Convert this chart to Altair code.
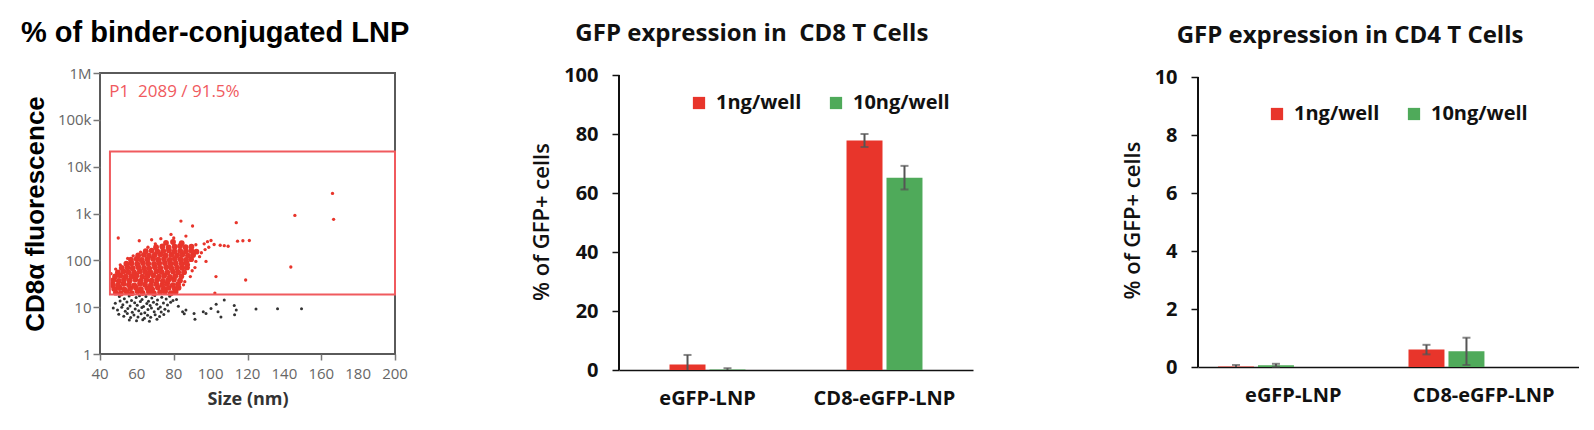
import altair as alt
import pandas as pd

# ---------------- data ----------------
# flow-cytometry style panel (size in nm, CD8a fluorescence)
gate_box = {"x": 45.4, "x2": 200, "y": 18.6, "y2": 21000}
gate_label = "P1\u00a0 2089 / 91.5%"

red_core = [
    (48.6, 20.4), (51.3, 19.6), (54.5, 21.2), (57.2, 19.9), (60.4, 21.8), (63.1, 20.1), (66.5, 21.4), (69.2, 19.8), (72.6, 20.9), (75.3, 21.6), (78.4, 19.9), (81.0, 21.1),
    (47.7, 24.6), (50.6, 25.7), (53.2, 23.9), (56.4, 25.2), (59.5, 26.1), (62.2, 24.3), (65.6, 25.6), (68.3, 24.0), (71.4, 26.2), (74.6, 24.8), (77.3, 25.9), (80.6, 24.4), (82.6, 26.0),
    (46.9, 30.6), (49.8, 29.4), (52.8, 31.6), (55.7, 30.1), (58.6, 29.2), (61.7, 31.8), (64.4, 30.3), (67.6, 29.5), (70.5, 31.4), (73.7, 30.0), (76.4, 31.7), (79.5, 29.6), (82.3, 30.9),
    (47.3, 37.8), (50.2, 36.4), (53.0, 38.6), (56.1, 37.0), (59.2, 38.9), (62.0, 36.2), (65.1, 37.9), (68.0, 36.8), (71.0, 38.7), (74.1, 36.5), (77.0, 37.6), (80.1, 38.9), (83.4, 36.9),
    (48.2, 45.3), (51.0, 47.2), (53.9, 44.6), (57.0, 46.0), (59.8, 47.6), (62.9, 44.9), (65.8, 46.5), (68.9, 47.9), (71.9, 45.0), (74.8, 46.8), (77.9, 44.4), (80.8, 46.1), (84.1, 45.5),
    (49.7, 55.2), (52.7, 57.6), (55.4, 56.1), (58.5, 54.9), (61.6, 57.9), (64.5, 56.3), (67.4, 55.0), (70.6, 58.1), (73.4, 56.6), (76.5, 55.3), (79.6, 57.5), (82.4, 56.0), (85.6, 55.8),
    (51.8, 68.6), (54.9, 70.4), (57.7, 68.1), (60.8, 71.2), (63.9, 69.0), (66.7, 67.6), (69.8, 70.8), (72.7, 69.3), (75.9, 71.5), (78.7, 68.4), (81.8, 70.1), (84.6, 69.2), (87.2, 70.6),
    (54.3, 84.7), (57.1, 86.9), (60.2, 83.8), (63.3, 87.4), (66.2, 85.2), (69.3, 84.0), (72.1, 86.6), (75.2, 88.0), (78.3, 84.5), (81.1, 86.1), (84.3, 85.0), (87.0, 87.1),
    (56.8, 103.5), (59.9, 106.8), (62.6, 102.1), (65.7, 105.6), (68.8, 108.4), (71.6, 103.0), (74.7, 106.2), (77.8, 101.8), (80.6, 107.1), (83.7, 104.4), (86.6, 102.6), (89.4, 105.9),
    (60.7, 127.4), (63.8, 131.2), (66.6, 125.6), (69.7, 130.0), (72.8, 133.0), (75.6, 126.8), (78.7, 130.6), (81.8, 127.9), (84.6, 132.2), (87.7, 126.2), (90.5, 129.8),
    (64.8, 156.0), (68.0, 161.5), (71.2, 153.6), (74.3, 159.1), (77.4, 163.0), (80.4, 154.8), (83.5, 158.7), (86.6, 155.5), (89.5, 161.2), (92.3, 153.4),
    (70.4, 190.5), (73.8, 198.6), (77.2, 188.8), (80.5, 196.2), (83.4, 201.5), (86.4, 190.2), (89.6, 195.4),
    (75.8, 236.0), (79.6, 246.5), (84.3, 231.8),
]

red_sparse = [
    (49.9, 300), (61.3, 262), (78.5, 357), (83.9, 690), (86.6, 330), (90.2, 540), (113.9, 636),
    (145.7, 910), (166.1, 2680), (166.7, 750), (143.5, 72), (119, 38), (102.9, 45), (102.3, 20),
    (114.6, 257), (117.5, 262), (121, 265), (101.9, 218), (105.2, 210), (107.4, 206), (109.5, 200),
    (97.5, 95), (91.5, 70), (85.3, 30), (100.2, 265), (96.5, 225), (98.3, 250),
    (47.8, 40), (48.9, 25), (46, 52), (46.5, 28), (48.5, 65), (51, 80), (55, 110), (58, 125),
    (62, 150), (66, 190), (70, 225), (90, 60), (89, 45), (86, 35), (88, 80), (92, 95),
    (94, 120), (95, 145), (97, 170), (99, 190), (92, 215), (73, 290), (68, 275), (80, 300),
]

black_events = [
    (50.5, 16.8), (53.2, 15.1), (55.8, 17.4), (57.1, 13.9), (59.6, 16.0), (61.4, 17.6), (62.8, 14.6), (64.9, 16.9),
    (66.3, 13.4), (68.1, 15.7), (69.7, 17.8), (71.2, 14.2), (73.5, 16.3), (75.9, 15.0), (77.8, 17.1), (79.6, 13.8),
    (48.3, 12.1), (50.9, 13.6), (52.4, 11.2), (54.6, 12.9), (56.3, 10.6), (58.8, 12.4), (60.2, 11.0), (61.9, 13.2),
    (63.6, 10.3), (65.4, 12.0), (67.2, 10.9), (69.0, 12.7), (70.8, 11.5), (72.7, 10.1), (74.4, 12.3), (76.6, 11.1), (78.3, 12.8),
    (47.2, 9.6), (49.5, 8.7), (51.8, 10.0), (53.7, 8.2), (55.1, 9.4), (57.5, 7.8), (59.1, 9.1), (61.0, 8.4), (62.7, 9.8),
    (64.3, 7.6), (66.0, 8.9), (67.9, 9.6), (69.4, 8.0), (71.6, 9.3), (73.2, 7.9), (75.2, 9.0), (77.1, 8.3),
    (50.2, 7.1), (52.9, 6.4), (54.8, 7.3), (56.6, 6.0), (58.4, 6.8), (60.6, 6.2), (62.3, 7.2), (64.1, 5.8), (65.8, 6.7),
    (67.5, 6.1), (69.9, 6.9), (72.3, 6.3), (74.6, 7.0),
    (55.9, 5.3), (59.8, 5.1), (63.2, 5.4), (66.8, 5.0), (70.9, 5.5),
    (84.8, 8), (86.6, 8.7), (85.7, 7.2), (91.5, 5.5), (97.5, 7.3), (100.2, 9.4), (103, 11.6),
    (107.4, 14.2), (105.6, 6.2), (112.8, 10.8), (113.9, 8.7), (113, 6.9), (124.6, 9.1),
    (136.3, 9.3), (149.3, 9.3), (91, 7.3), (96, 8), (104, 8), (81.5, 14.5), (82.5, 10.5),
]

size_ticks = [40, 60, 80, 100, 120, 140, 160, 180, 200]
fl_ticks = [1, 10, 100, 1000, 10000, 100000, 1000000]

# bar panels
categories = ["eGFP-LNP", "CD8-eGFP-LNP"]
doses = ["1ng/well", "10ng/well"]
cd8_mean = [1.9, 0.2, 77.8, 65.2]
cd8_err = [3.2, 0.4, 2.2, 4.0]
cd4_mean = [0.02, 0.06, 0.60, 0.54]
cd4_err = [0.05, 0.05, 0.165, 0.47]
cd8_ticks = [0, 20, 40, 60, 80, 100]
cd4_ticks = [0, 2, 4, 6, 8, 10]

RED = "#E8352B"
GREEN = "#4FAA5A"
GATE = "#F05A5E"
ERR = "#555555"
INK = "#111111"

# ---------------- panel 1 ----------------
P1_H = 281
df_core = pd.DataFrame(red_core, columns=["size", "fl"])
df_sparse = pd.DataFrame(red_sparse, columns=["size", "fl"])
df_black = pd.DataFrame(black_events, columns=["size", "fl"])
df_gate = pd.DataFrame([gate_box])
df_xticks = pd.DataFrame({"v": size_ticks})

xs = alt.Scale(domain=[40, 200], nice=False)
ys = alt.Scale(type="log", domain=[1, 1000000], nice=False)

x_ax = alt.Axis(values=size_ticks, title="Size (nm)", grid=False, domain=False, labels=False,
                tickColor="#777777", tickSize=6, tickWidth=1.5,
                titleFont="Open Sans", titleFontSize=18, titleFontWeight="bold",
                titleColor="#333333", titlePadding=30)
y_ax = alt.Axis(values=fl_ticks, title="CD8\u03b1 fluorescence", grid=False, domain=False,
                labelOverlap=False, labelFlush=False,
                labelExpr="datum.value >= 1000000 ? '1M' : (datum.value >= 1000 ? format(datum.value/1000, 'd') + 'k' : format(datum.value, 'd'))",
                labelFont="Open Sans", labelFontSize=15, labelColor="#666666",
                tickColor="#777777", tickSize=7, tickWidth=1.5, labelPadding=2,
                titleFont="Liberation Sans", titleFontSize=26, titleFontWeight="bold",
                titleColor="#000000", titlePadding=9)

black_layer = alt.Chart(df_black).mark_circle(size=9, color="#333333", opacity=1).encode(
    x=alt.X("size:Q", scale=xs, axis=x_ax), y=alt.Y("fl:Q", scale=ys, axis=y_ax))
core_layer = alt.Chart(df_core).mark_circle(size=34, color=RED, opacity=1).encode(
    x=alt.X("size:Q", scale=xs, axis=x_ax), y=alt.Y("fl:Q", scale=ys, axis=y_ax))
sparse_layer = alt.Chart(df_sparse).mark_circle(size=11, color=RED, opacity=1).encode(
    x=alt.X("size:Q", scale=xs, axis=x_ax), y=alt.Y("fl:Q", scale=ys, axis=y_ax))
gate_layer = alt.Chart(df_gate).mark_rect(fillOpacity=0, stroke=GATE, strokeWidth=2).encode(
    x=alt.X("x:Q", scale=xs, axis=x_ax), x2="x2:Q", y=alt.Y("y:Q", scale=ys, axis=y_ax), y2="y2:Q")
label_layer = alt.Chart(pd.DataFrame({"t": [gate_label]})).mark_text(
    align="left", baseline="alphabetic", font="Open Sans", fontSize=17, color=GATE).encode(
    x=alt.datum(45, scale=xs), y=alt.datum(300000, scale=ys), text="t:N")
xtick_labels = alt.Chart(df_xticks).mark_text(
    align="center", baseline="top", font="Open Sans", fontSize=15, color="#666666").encode(
    x=alt.X("v:Q", scale=xs, axis=x_ax), y=alt.value(P1_H + 13), text="v:Q")

panel1 = alt.layer(black_layer, sparse_layer, core_layer, gate_layer, label_layer, xtick_labels).properties(
    width=295, height=P1_H,
    view=alt.ViewBackground(stroke="#5a5a5a", strokeWidth=2),
    title=alt.TitleParams("% of binder-conjugated LNP", font="Liberation Sans", fontSize=29,
                          fontWeight="bold", color="#000000", anchor="start", frame="group",
                          baseline="alphabetic", offset=-5, dx=-79),
)


# ---------------- bar panels ----------------
def bar_panel(means, errs, ticks, ymax, top_tick, width, height, title,
              x_in, x_out, o_in, o_out, legend_x, legend_y):
    df = pd.DataFrame({
        "cat": [c for c in categories for _ in doses],
        "dose": doses * len(categories),
        "mean": means,
        "err": errs,
    })
    df["hi"] = df["mean"] + df["err"]
    df["lo"] = (df["mean"] - df["err"]).clip(lower=0)

    x = alt.X("cat:N", sort=categories, scale=alt.Scale(paddingInner=x_in, paddingOuter=x_out),
              axis=alt.Axis(title=None, labelAngle=0, labelFont="Open Sans", labelFontSize=20,
                            labelFontWeight="bold", labelColor=INK, tickSize=0,
                            labelPadding=18, domainColor=INK, domainWidth=1.6, grid=False))
    xo = alt.XOffset("dose:N", sort=doses, scale=alt.Scale(paddingInner=o_in, paddingOuter=o_out))
    ys_ = alt.Scale(domain=[0, ymax], nice=False)
    y_axis = alt.Axis(values=ticks, title="% of GFP+ cells", grid=False, domain=False,
                      labelFont="Open Sans", labelFontSize=20, labelFontWeight="bold",
                      labelColor=INK, tickSize=7, tickColor=INK, tickWidth=1.5,
                      labelPadding=14,
                      titleFont="Open Sans", titleFontSize=22, titleFontWeight=600,
                      titleColor=INK, titlePadding=10)
    base = alt.Chart(df)
    bars = base.mark_bar().encode(
        x=x, xOffset=xo,
        y=alt.Y("mean:Q", scale=ys_, axis=y_axis),
        color=alt.Color("dose:N", sort=doses, scale=alt.Scale(domain=doses, range=[RED, GREEN]),
                        legend=alt.Legend(title=None, orient="none", legendX=legend_x, legendY=legend_y,
                                          direction="horizontal", symbolType="square", symbolSize=150,
                                          symbolStrokeWidth=0, symbolOpacity=1,
                                          labelFont="Open Sans", labelFontSize=20, labelFontWeight="bold",
                                          labelColor=INK, labelOffset=7, columnPadding=24)),
    )
    y_line = base.mark_rule(color=INK, strokeWidth=1.6).encode(
        x=alt.value(0), y=alt.datum(0, scale=ys_), y2=alt.datum(top_tick))
    rule = base.mark_rule(color=ERR, strokeWidth=2).encode(
        x=x, xOffset=xo, y=alt.Y("lo:Q", scale=ys_), y2="hi:Q")
    cap_hi = base.mark_tick(color=ERR, thickness=2, size=8, orient="horizontal").encode(
        x=x, xOffset=xo, y=alt.Y("hi:Q", scale=ys_))
    cap_lo = base.transform_filter("datum.mean - datum.err > 0").mark_tick(
        color=ERR, thickness=2, size=8, orient="horizontal").encode(
        x=x, xOffset=xo, y=alt.Y("lo:Q", scale=ys_))
    return alt.layer(bars, rule, cap_hi, cap_lo, y_line).properties(
        width=width, height=height,
        title=alt.TitleParams(title, font="Open Sans", fontSize=24, fontWeight="bold",
                              color=INK, anchor="middle", frame="bounds",
                              baseline="alphabetic", offset=0),
    )


panel2 = bar_panel(cd8_mean, cd8_err, cd8_ticks, 100.68, 100, 354, 297,
                   "GFP expression in\u00a0 CD8 T Cells", 0.345, 0.1725, 0.1, 0.5, 70, 20)
panel3 = bar_panel(cd4_mean, cd4_err, cd4_ticks, 10.14, 10, 381, 294,
                   "GFP expression in CD4 T Cells", 0.0, 0.0, 0.19, 0.391, 69, 31)

inner = alt.hconcat(panel1, panel2, spacing=119).resolve_scale(color="independent").resolve_legend(color="independent")
chart = alt.hconcat(inner, panel3, spacing=148).resolve_scale(color="independent").resolve_legend(
    color="independent").properties(
    padding={"left": 12, "top": 10, "right": 0, "bottom": 10}
).configure_view(stroke=None).configure_axis(grid=False, labelOverlap=False)

chart.save("out.html", embed_options={"renderer": "svg", "actions": False})
